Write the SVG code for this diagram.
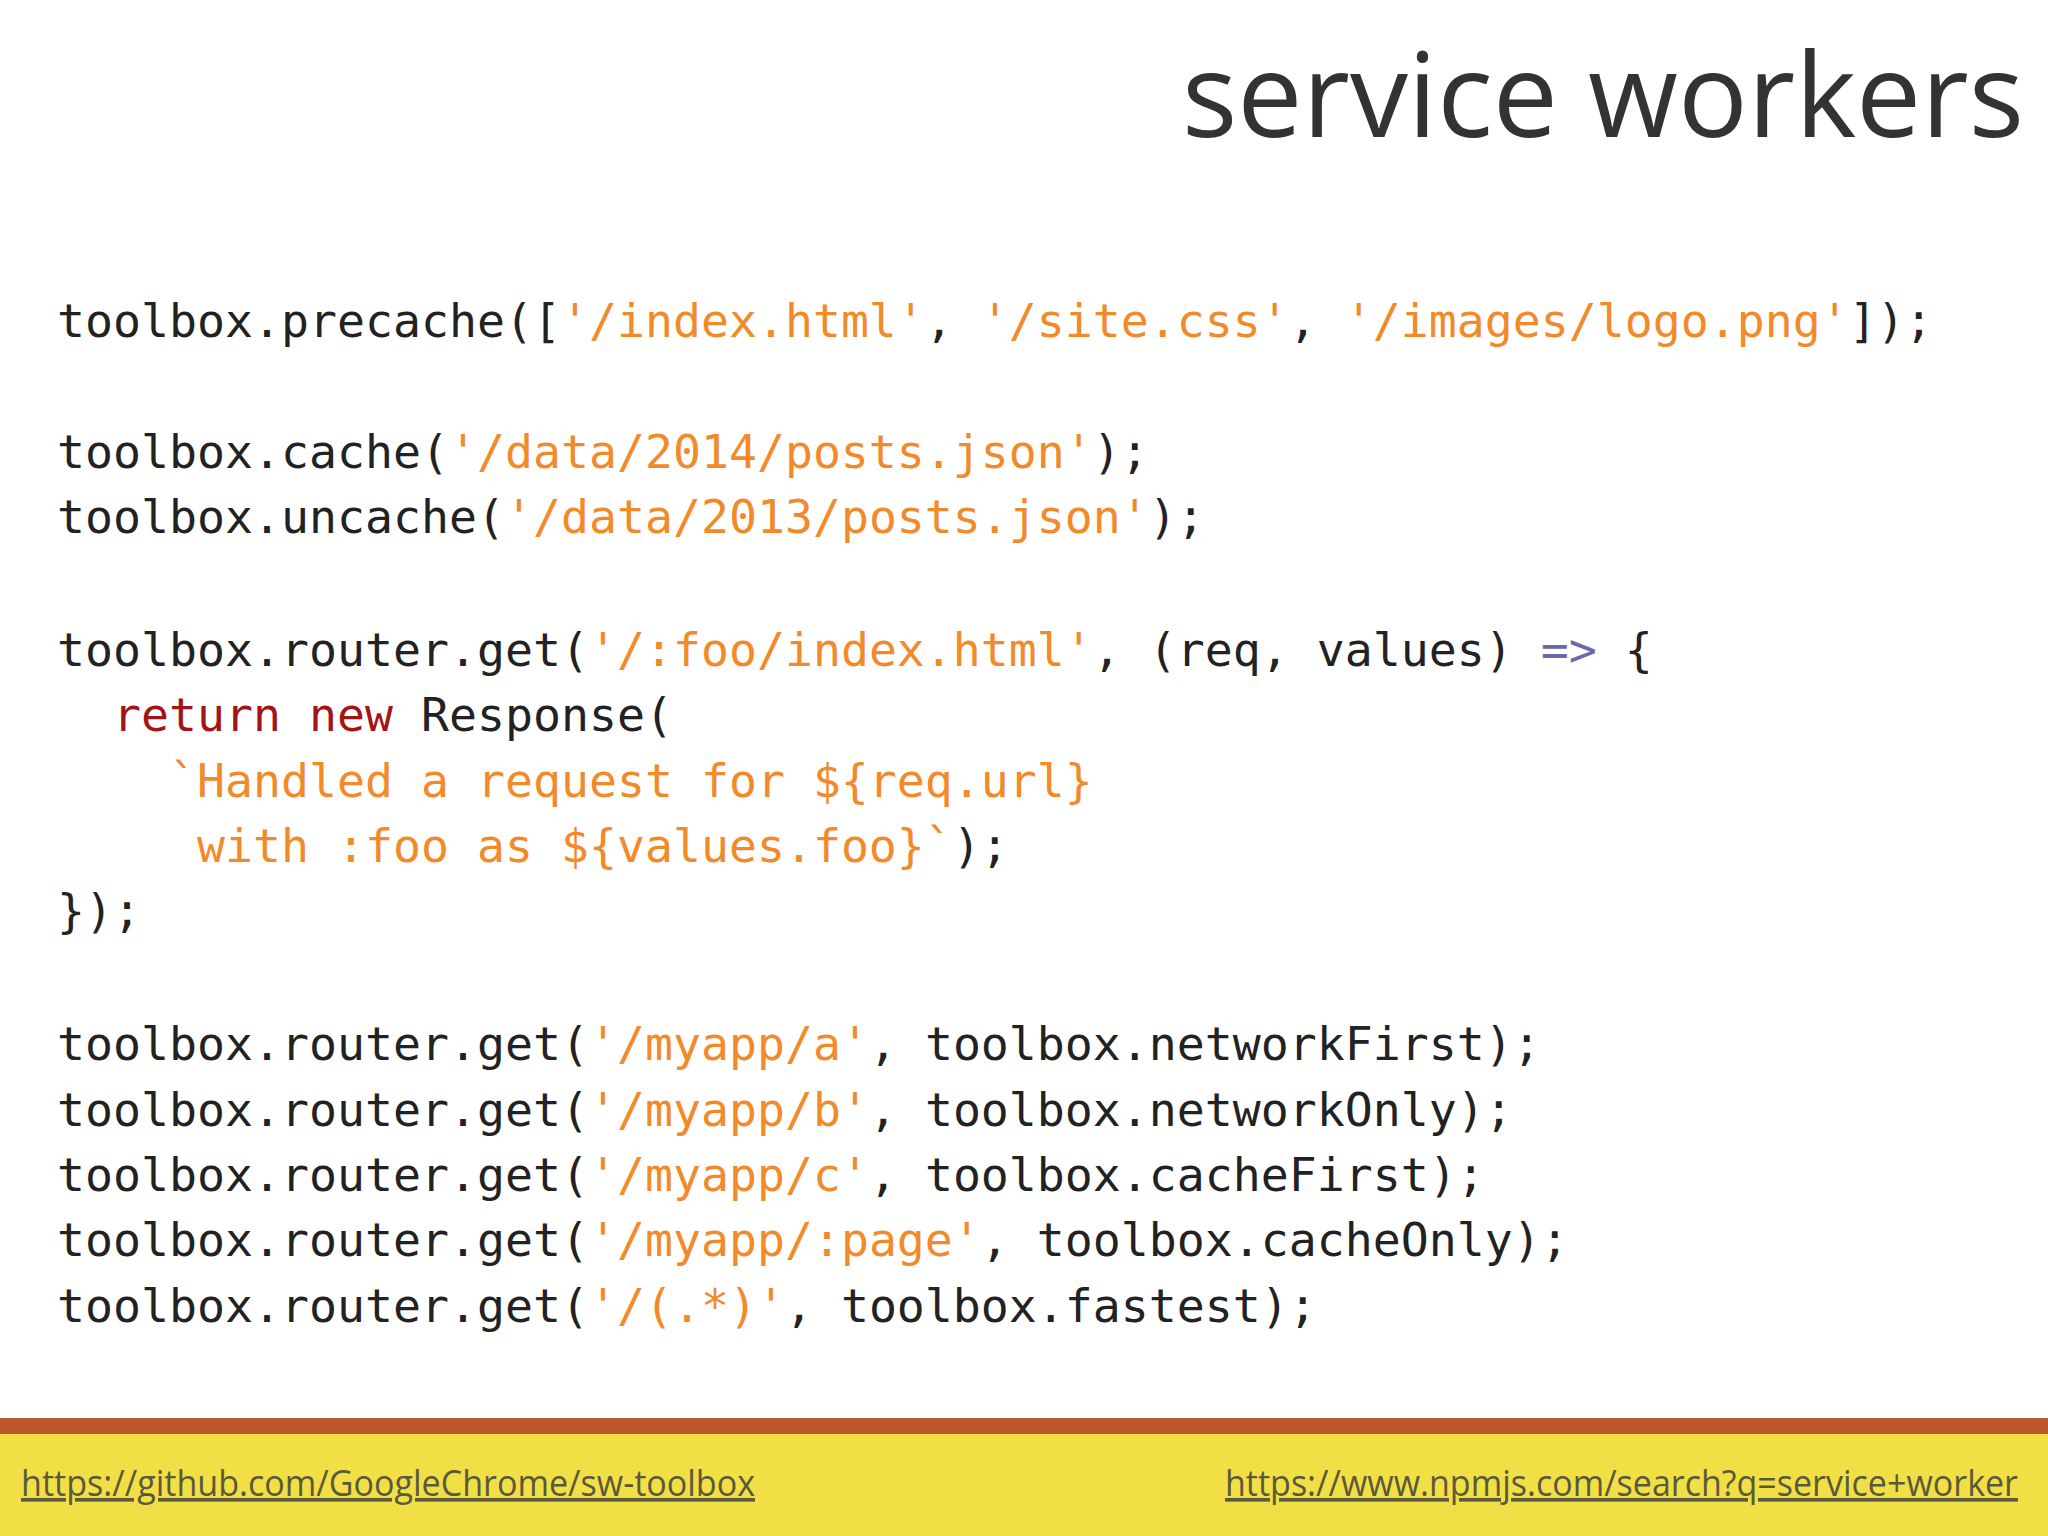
<svg xmlns="http://www.w3.org/2000/svg" width="2048" height="1536" viewBox="0 0 2048 1536">
<style>
.c{font-family:"DejaVu Sans Mono","Liberation Mono",monospace;font-size:46.5px;fill:#222;white-space:pre}
.s{fill:#F28A2A}.k{fill:#A31515}.o{fill:#6A6AA8}
.l{font-family:"Open Sans","Noto Sans",sans-serif;font-size:36px;fill:#5a5a3a;text-decoration:underline}
</style>
<rect width="2048" height="1536" fill="#fff"/>
<g id="title"><text x="2024" y="137" text-anchor="end" font-family="Open Sans, Noto Sans, sans-serif" font-size="117" fill="#333" textLength="842" lengthAdjust="spacingAndGlyphs">service workers</text></g>
<g id="code" class="c" xml:space="preserve">
<text x="57" y="337" class="c">toolbox.precache([<tspan class="s">'/index.html'</tspan>, <tspan class="s">'/site.css'</tspan>, <tspan class="s">'/images/logo.png'</tspan>]);</text>
<text x="57" y="468" class="c">toolbox.cache(<tspan class="s">'/data/2014/posts.json'</tspan>);</text>
<text x="57" y="533" class="c">toolbox.uncache(<tspan class="s">'/data/2013/posts.json'</tspan>);</text>
<text x="57" y="666" class="c">toolbox.router.get(<tspan class="s">'/:foo/index.html'</tspan>, (req, values) <tspan class="o">=&gt;</tspan> {</text>
<text x="57" y="731" class="c">  <tspan class="k">return</tspan> <tspan class="k">new</tspan> Response(</text>
<text x="57" y="797" class="c">    <tspan class="s">`Handled a request for ${req.url}</tspan></text>
<text x="57" y="862" class="c">     <tspan class="s">with :foo as ${values.foo}`</tspan>);</text>
<text x="57" y="927" class="c">});</text>
<text x="57" y="1060" class="c">toolbox.router.get(<tspan class="s">'/myapp/a'</tspan>, toolbox.networkFirst);</text>
<text x="57" y="1126" class="c">toolbox.router.get(<tspan class="s">'/myapp/b'</tspan>, toolbox.networkOnly);</text>
<text x="57" y="1191" class="c">toolbox.router.get(<tspan class="s">'/myapp/c'</tspan>, toolbox.cacheFirst);</text>
<text x="57" y="1256" class="c">toolbox.router.get(<tspan class="s">'/myapp/:page'</tspan>, toolbox.cacheOnly);</text>
<text x="57" y="1322" class="c">toolbox.router.get(<tspan class="s">'/(.*)'</tspan>, toolbox.fastest);</text>
</g>
<g id="footer">
<rect x="0" y="1418" width="2048" height="16" fill="#BF572D"/>
<rect x="0" y="1434" width="2048" height="102" fill="#F2DF46"/>
<text x="21" y="1496" class="l" textLength="734" lengthAdjust="spacingAndGlyphs">https://github.com/GoogleChrome/sw-toolbox</text>
<text x="1225" y="1496" class="l" textLength="793" lengthAdjust="spacingAndGlyphs">https://www.npmjs.com/search?q=service+worker</text>
</g>
</svg>
